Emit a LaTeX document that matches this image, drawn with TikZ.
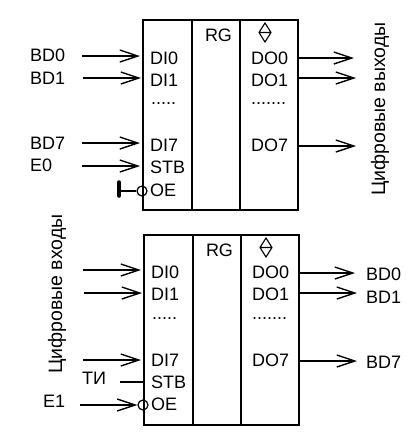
\documentclass[tikz,border=0pt]{standalone}
\usepackage{fontspec}
\setmainfont{Liberation Sans}
\usepackage{xcolor}
\usepackage{tikz}
\usetikzlibrary{arrows.meta, positioning}

\tikzset{
    lbl/.style={inner sep=0pt, font=\fontsize{18}{18}\selectfont},
    vlbl/.style={inner sep=0pt, rotate=90, font=\fontsize{19.5}{19.5}\selectfont},
    sig/.style={line width=1.7pt, -{Straight Barb[length=18pt, width=12pt, line width=1.4pt]}},
    wire/.style={line width=1.7pt},
    inv/.style={circle, draw, line width=1.2pt, minimum size=10pt, inner sep=0pt},
    regbox/.style={draw, line width=1.8pt, minimum width=155pt, minimum height=190pt, inner sep=0pt, anchor=north west},
    divider/.style={line width=1.7pt},
    dirmark/.style={line width=1.1pt}
}

\begin{document}
\begin{tikzpicture}[x=1pt, y=-1pt]
    \useasboundingbox (0,0) rectangle (411,445);

    % Верхний регистр
    \node[regbox] (boxA) at (142,19) {};
    \draw[divider] (192,19) coordinate (a1) -- (a1 |- boxA.south);
    \draw[divider] (240,19) coordinate (a2) -- (a2 |- boxA.south);
    \node[lbl] (rgA) at (218.5,35) {RG};
    \draw[dirmark] (265,23) -- (271,32.5) -- (265,42) -- (259,32.5) -- cycle (259,32.5) -- (271,32.5);

    % Входы
    \foreach \n/\t/\y/\p/\xa/\xb in {0/BD0/55/58/82/140, 1/BD1/78/80/83/141, 7/BD7/143/145/82/140} {
        \node[lbl, anchor=west] (inA\n) at (30,\y) {\t};
        \node[lbl, anchor=west] (diA\n) at (150,\p) {DI\n};
        \coordinate (sA\n) at (\xa,\p-2);
        \coordinate (eA\n) at (\xb,\p-2);
        \draw[sig] (sA\n) -- (eA\n);
    }
    \node[lbl, anchor=west] (inE0) at (30,165) {E0};
    \node[lbl, anchor=west] (stbA) at (150,167) {STB};
    \coordinate (sE0) at (82,166);
    \coordinate (eE0) at (140,166);
    \draw[sig] (sE0) -- (eE0);
    \node[lbl, anchor=west] (dotsA) at (151,104) {.....};
    \node[lbl, anchor=west] (oeA) at (150,190) {OE};
    \node[inv] (invA) at (142,191) {};
    \coordinate (gndA) at (119,191);
    \draw[wire] (gndA) -- (invA);
    \draw[line width=3.5pt, line cap=round] (119,182) -- (119,196);

    % Выходы
    \foreach \n/\p/\y/\xb in {0/58/58/354, 1/80/78/356, 7/145/146/356} {
        \node[lbl, anchor=west] (doA\n) at (251,\p) {DO\n};
        \coordinate (tA\n) at (297,\y);
        \coordinate (uA\n) at (\xb,\y);
        \draw[sig] (tA\n) -- (uA\n);
    }
    \node[lbl, anchor=west] (ddotsA) at (251,104) {.......};
    \node[vlbl] (outA) at (380,109) {Цифровые выходы};

    % Нижний регистр
    \node[regbox] (boxB) at (143,234) {};
    \draw[divider] (193,234) coordinate (b1) -- (b1 |- boxB.south);
    \draw[divider] (241,234) coordinate (b2) -- (b2 |- boxB.south);
    \node[lbl] (rgB) at (219.5,250) {RG};
    \draw[dirmark] (266,238) -- (272,247.5) -- (266,257) -- (260,247.5) -- cycle (260,247.5) -- (272,247.5);

    % Входы
    \foreach \n/\p/\y/\xa/\xb in {0/272/270/83/141, 1/294/293/84/142, 7/360/360/83/141} {
        \node[lbl, anchor=west] (diB\n) at (151,\p) {DI\n};
        \coordinate (sB\n) at (\xa,\y);
        \coordinate (eB\n) at (\xb,\y);
        \draw[sig] (sB\n) -- (eB\n);
    }
    \node[vlbl] (inB) at (57,294) {Цифровые входы};
    \node[lbl, anchor=west] (dotsB) at (152,319) {.....};
    \node[lbl, anchor=west] (clk) at (82,378) {ТИ};
    \node[lbl, anchor=west] (stbB) at (151,382) {STB};
    \coordinate (sClk) at (120,382);
    \coordinate (eClk) at (143,382);
    \draw[wire] (sClk) -- (eClk);
    \node[lbl, anchor=west] (inE1) at (43,401) {E1};
    \node[lbl, anchor=west] (oeB) at (151,404) {OE};
    \node[inv] (invB) at (143,405) {};
    \coordinate (sE1) at (80,405);
    \draw[sig] (sE1) -- (invB);

    % Выходы
    \foreach \n/\p/\y/\q/\xb in {0/272/273/274/355, 1/294/293/297/357, 7/360/361/362/357} {
        \node[lbl, anchor=west] (doB\n) at (252,\p) {DO\n};
        \node[lbl, anchor=west] (outB\n) at (366,\q) {BD\n};
        \coordinate (tB\n) at (298,\y);
        \coordinate (uB\n) at (\xb,\y);
        \draw[sig] (tB\n) -- (uB\n);
    }
    \node[lbl, anchor=west] (ddotsB) at (252,319) {.......};
\end{tikzpicture}
\end{document}
